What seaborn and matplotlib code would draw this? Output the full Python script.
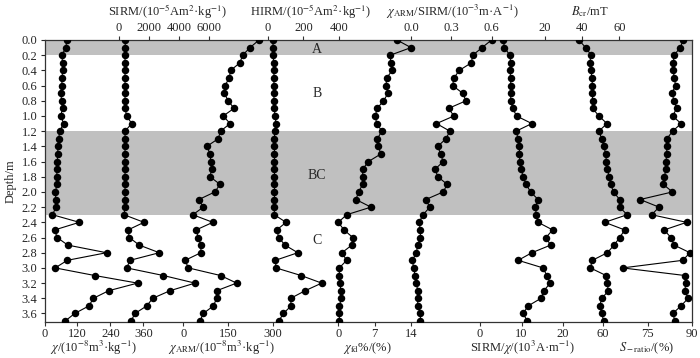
import numpy as np
import pandas as pd
import seaborn as sns
import matplotlib.pyplot as plt

sns.set_theme(style='ticks')
plt.rcParams['font.family'] = ['Liberation Serif', 'DejaVu Serif']
plt.rcParams['mathtext.fontset'] = 'stix'
plt.rcParams['font.size'] = 9

# %% Data (depth in m, one sample every 0.1 m)
depth = [0.0, 0.1, 0.2, 0.3, 0.4, 0.5, 0.6, 0.7, 0.8, 0.9,
         1.0, 1.1, 1.2, 1.3, 1.4, 1.5, 1.6, 1.7, 1.8, 1.9,
         2.0, 2.1, 2.2, 2.3, 2.4, 2.5, 2.6, 2.7, 2.8, 2.9,
         3.0, 3.1, 3.2, 3.3, 3.4, 3.5, 3.6, 3.7]

chi = [81, 78, 63, 66, 66, 64, 63, 60, 62, 66,
       59, 70, 55, 52, 48, 49, 46, 45, 45, 45,
       40, 41, 42, 29, 127, 37, 46, 85, 226, 83,
       39, 183, 339, 234, 178, 162, 110, 75]

sirm = [420, 410, 400, 400, 400, 400, 400, 400, 400, 400,
        512, 844, 400, 400, 400, 400, 400, 400, 400, 400,
        400, 400, 400, 332, 1661, 598, 684, 1349, 2678, 731,
        512, 2944, 5050, 3389, 2239, 1841, 1063, 797]

chi_arm = [254, 224, 199, 190, 159, 154, 140, 137, 151, 170,
           134, 157, 125, 117, 79, 90, 92, 95, 90, 123,
           106, 52, 67, 32, 99, 43, 50, 59, 59, 6,
           17, 125, 179, 112, 112, 101, 67, 56]

hirm = [28, 31, 31, 33, 35, 35, 35, 35, 35, 37,
        41, 47, 39, 38, 38, 38, 38, 38, 38, 38,
        38, 38, 38, 37, 103, 51, 62, 97, 169, 43,
        47, 187, 303, 210, 129, 131, 88, 62]

chi_fd = [11.3, 14.0, 10.0, 10.1, 10.4, 9.3, 9.2, 9.6, 8.7, 7.5,
          7.1, 7.4, 8.4, 7.5, 7.7, 8.2, 5.8, 4.7, 4.7, 4.7,
          3.9, 3.4, 6.3, 1.6, 0.0, 1.1, 2.8, 2.6, 0.7, 1.6,
          0.2, 0.2, 0.3, 0.5, 0.6, 0.2, 0.2, 0.2]

arm_sirm = [0.60, 0.53, 0.46, 0.45, 0.36, 0.32, 0.31, 0.385, 0.41, 0.28,
            0.32, 0.19, 0.29, 0.26, 0.20, 0.22, 0.24, 0.18, 0.20, 0.27,
            0.24, 0.11, 0.14, 0.09, 0.06, 0.07, 0.07, 0.05, 0.04, 0.01,
            0.02, 0.03, 0.04, 0.05, 0.05, 0.05, 0.07, 0.07]

sirm_chi = [5.6, 5.9, 7.2, 7.4, 7.2, 7.4, 7.4, 7.4, 7.4, 7.9,
            8.8, 12.5, 8.7, 9.2, 9.5, 9.5, 9.6, 9.9, 10.4, 11.1,
            12.2, 14.0, 13.3, 13.6, 14.0, 17.5, 15.9, 17.0, 12.5, 9.2,
            15.2, 16.1, 16.9, 15.4, 14.7, 11.6, 10.4, 11.4]

bcr = [38.4, 42.0, 45.0, 44.1, 44.8, 45.4, 45.6, 45.6, 45.7, 45.7,
       49.1, 53.4, 49.1, 50.6, 51.8, 52.7, 53.1, 53.4, 54.7, 55.4,
       56.9, 60.2, 60.2, 64.2, 52.2, 62.9, 60.2, 57.2, 53.6, 45.6,
       44.5, 52.9, 53.4, 54.2, 50.7, 49.5, 50.7, 51.6]

s_ratio = [87.1, 86.0, 84.0, 83.7, 83.7, 84.0, 84.5, 83.2, 84.0, 84.8,
           83.5, 86.3, 83.5, 81.5, 81.5, 81.5, 81.2, 81.2, 80.7, 80.3,
           83.4, 72.5, 78.9, 76.4, 88.2, 80.6, 82.9, 84.0, 89.3, 86.9,
           66.6, 87.6, 87.9, 87.6, 88.7, 86.3, 83.5, 84.3]

zones = ['A', 'B', 'BC', 'C']
zone_depth = [0.13, 0.70, 1.79, 2.64]
grey_bands = [(0.0, 0.2), (1.2, 2.3)]

# %% Layout (pixels of the 700x358 figure)
W, H = 700, 358
L, R, T, B = 44.5, 692, 40, 321.7

# each profile: values, side, two (value, pixel) anchors, ticks, axis title, title centre x
panels = [
    (chi, 'bottom', (0, 44.5, 360, 143.3), [0, 120, 240, 360], ['0', '120', '240', '360'],
     r'$\chi$/(10$^{-8}$m$^{3}$·kg$^{-1}$)', 93),
    (sirm, 'top', (0, 119, 6000, 209.3), [0, 2000, 4000, 6000], ['0', '2000', '4000', '6000'],
     r'SIRM/(10$^{-5}$Am$^{2}$·kg$^{-1}$)', 168),
    (chi_arm, 'bottom', (0, 183.3, 300, 272.7), [0, 150, 300], ['0', '150', '300'],
     r'$\chi_{\rm ARM}$/(10$^{-8}$m$^{3}$·kg$^{-1}$)', 222),
    (hirm, 'top', (0, 267.7, 400, 339), [0, 200, 400], ['0', '200', '400'],
     r'HIRM/(10$^{-5}$Am$^{2}$·kg$^{-1}$)', 311),
    (chi_fd, 'bottom', (0, 338.3, 14, 411), [0, 7, 14], ['0', '7', '14'],
     r'$\chi_{\rm fd}$%/(%)', 367),
    (arm_sirm, 'top', (0, 411, 0.6, 491.5), [0, 0.3, 0.6], ['0.0', '0.3', '0.6'],
     r'$\chi_{\rm ARM}$/SIRM/(10$^{-3}$m·A$^{-1}$)', 452),
    (sirm_chi, 'bottom', (0, 480, 20, 563), [0, 10, 20], ['0', '10', '20'],
     r'SIRM/$\chi$/(10$^{3}$A·m$^{-1}$)', 522),
    (bcr, 'top', (20, 544.5, 60, 619.3), [20, 40, 60], ['20', '40', '60'],
     r'$B_{\rm cr}$/mT', 590),
    (s_ratio, 'bottom', (60, 603, 90, 692), [60, 75, 90], ['60', '75', '90'],
     r'$S_{\rm -ratio}$/(%)', 646),
]


def anchor_lim(a):
    v0, p0, v1, p1 = a
    k = (v1 - v0) / (p1 - p0)
    return v0 + (L - p0) * k, v0 + (R - p0) * k


fig = plt.figure(figsize=(W / 100, H / 100), dpi=100)
ax = fig.add_axes([L / W, 1 - B / H, (R - L) / W, (B - T) / H])

for y0, y1 in grey_bands:
    ax.axhspan(y0, y1, color='#c0c0c0', lw=0, zorder=0)
for z, d in zip(zones, zone_depth):
    ax.text(0.421, d, z, transform=ax.get_yaxis_transform(), ha='center', va='center', fontsize=10)

ax.set_xticks([])
ax.set_yticks([0.0, 0.2, 0.4, 0.6, 0.8, 1.0, 1.2, 1.4, 1.6, 1.8, 2.0,
               2.2, 2.4, 2.6, 2.8, 3.0, 3.2, 3.4, 3.6])
ax.yaxis.set_major_formatter(plt.FormatStrFormatter('%.1f'))
ax.tick_params(axis='y', direction='out', length=3, width=0.8, pad=2, labelsize=9)
ax.set_ylabel('Depth/m', fontsize=9, labelpad=4)
for s in ax.spines.values():
    s.set_linewidth(0.9)
    s.set_color('#333333')

for vals, side, anc, ticks, tlabels, title, tx in panels:
    tw = ax.twiny()
    sns.lineplot(x=vals, y=depth, ax=tw, sort=False, estimator=None, color='black',
                 marker='o', markersize=5.4, markeredgewidth=0, linewidth=0.8)
    tw.set_xlim(anchor_lim(anc))
    for s in tw.spines.values():
        s.set_visible(False)
    if side == 'bottom':
        tw.xaxis.tick_bottom()
    else:
        tw.xaxis.tick_top()
    tw.set_xticks(ticks)
    tw.set_xticklabels(tlabels)
    tw.tick_params(axis='x', direction='out', length=3, width=0.8, pad=1.5, labelsize=9,
                   color='#333333')
    tw.set_xlabel('')
    ty = 348 if side == 'bottom' else 12
    fig.text(tx / W, 1 - ty / H, title, ha='center', va='center', fontsize=9)

ax.set_ylim(3.708, 0)

plt.savefig('out.png', dpi=100)
